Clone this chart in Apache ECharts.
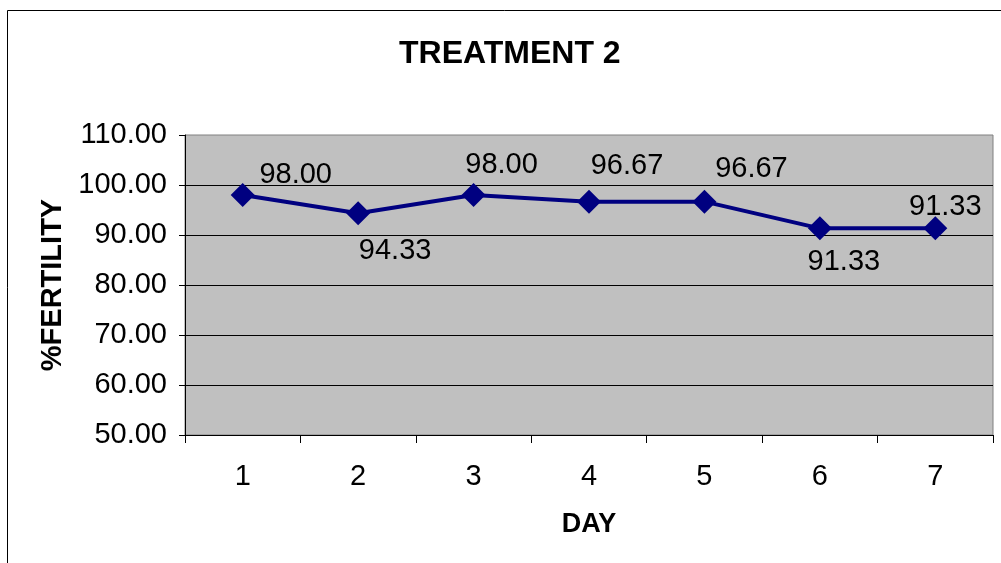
<!DOCTYPE html>
<html>
<head>
<meta charset="utf-8">
<title>TREATMENT 2</title>
<script src="https://cdn.jsdelivr.net/npm/echarts@6/dist/echarts.min.js"></script>
<style>
  html, body { margin: 0; padding: 0; background: #ffffff; }
  #chart { width: 1001px; height: 563px; }
</style>
</head>
<body>
<div id="chart"></div>
<script>
// Percent fertility by day, treatment 2
const days = ['1', '2', '3', '4', '5', '6', '7'];
const fertility = [98.00, 94.33, 98.00, 96.67, 96.67, 91.33, 91.33];
const yTicks = { min: 50, max: 110, step: 10 };

// Hand placement of each value label relative to its marker (px)
const labelOffsets = [[53, -20], [37, 38], [28, -30], [38, -36], [47, -33], [24, 34], [10, -21]];

const FONT = '"Liberation Sans", Arial, sans-serif';

const chart = echarts.init(document.getElementById('chart'), null, { renderer: 'canvas' });

chart.setOption({
  backgroundColor: '#ffffff',
  animation: false,
  title: {
    text: 'TREATMENT 2',
    left: 399,
    top: 38,
    padding: 0,
    textStyle: { fontFamily: FONT, fontSize: 32, fontWeight: 'bold', color: '#000000' }
  },
  graphic: [{
    type: 'rect',
    shape: { x: 7.5, y: 10.5, width: 1100, height: 1000 },
    style: { fill: 'none', stroke: '#000000', lineWidth: 1 },
    silent: true
  }],
  grid: {
    left: 185,
    right: 8,
    top: 135,
    bottom: 128,
    show: true,
    backgroundColor: '#c0c0c0',
    borderColor: '#808080',
    borderWidth: 1
  },
  xAxis: {
    type: 'category',
    data: days,
    boundaryGap: true,
    name: 'DAY',
    nameLocation: 'middle',
    nameGap: 76,
    nameTextStyle: { fontFamily: FONT, fontSize: 27, fontWeight: 'bold', color: '#000000' },
    axisLine: { show: true, lineStyle: { color: '#000000', width: 1 } },
    axisTick: { show: true, interval: 0, length: 8, lineStyle: { color: '#000000' } },
    axisLabel: { interval: 0, margin: 27, fontFamily: FONT, fontSize: 29, color: '#000000' },
    splitLine: { show: false }
  },
  yAxis: {
    type: 'value',
    min: yTicks.min,
    max: yTicks.max,
    interval: yTicks.step,
    name: '%FERTILITY',
    nameLocation: 'middle',
    nameRotate: 90,
    nameGap: 118,
    nameTextStyle: { fontFamily: FONT, fontSize: 29, fontWeight: 'bold', color: '#000000' },
    axisLine: { show: true, lineStyle: { color: '#000000', width: 1 } },
    axisTick: { show: true, length: 6, lineStyle: { color: '#000000' } },
    axisLabel: {
      margin: 18,
      fontFamily: FONT,
      fontSize: 29,
      color: '#000000',
      formatter: v => v.toFixed(2)
    },
    splitLine: { show: true, showMinLine: false, showMaxLine: false, lineStyle: { color: '#000000', width: 1 } }
  },
  series: [{
    type: 'line',
    data: fertility.map((v, i) => ({
      value: v,
      label: { offset: labelOffsets[i] }
    })),
    symbol: 'diamond',
    symbolSize: 24,
    lineStyle: { color: '#000080', width: 4 },
    itemStyle: { color: '#000080' },
    label: {
      show: true,
      position: 'inside',
      align: 'center',
      verticalAlign: 'middle',
      fontFamily: FONT,
      fontSize: 29,
      color: '#000000',
      formatter: p => p.value.toFixed(2)
    }
  }]
});
</script>
</body>
</html>
